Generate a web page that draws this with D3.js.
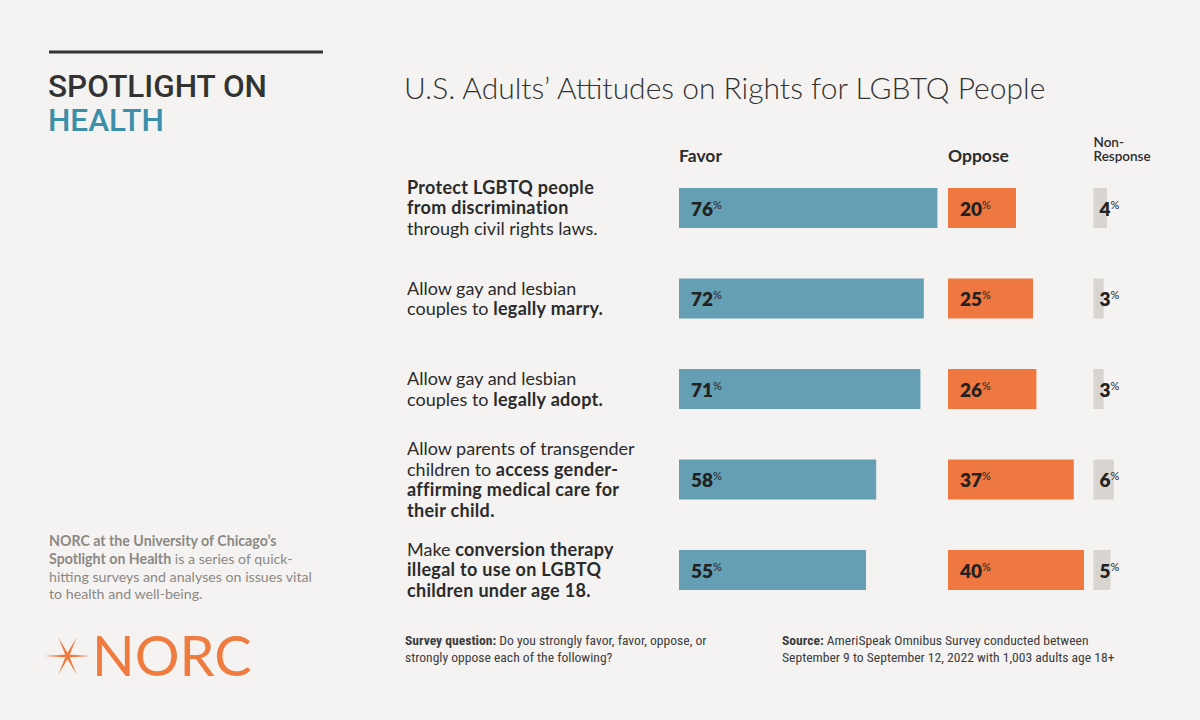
<!DOCTYPE html>
<html>
<head>
<meta charset="utf-8">
<script src="https://cdn.jsdelivr.net/npm/d3@7"></script>
<style>
  body { margin: 0; background: #f4f3f1; }
  svg { display: block; }
</style>
</head>
<body>
<div id="chart"></div>
<script>
// values
const statements = [
  [[['Protect LGBTQ people', true]], [['from discrimination', true]], [['through civil rights laws.', false]]],
  [[['Allow gay and lesbian', false]], [['couples to ', false], ['legally marry.', true]]],
  [[['Allow gay and lesbian', false]], [['couples to ', false], ['legally adopt.', true]]],
  [[['Allow parents of transgender', false]], [['children to ', false], ['access gender-', true]], [['affirming medical care for', true]], [['their child.', true]]],
  [[['Make ', false], ['conversion therapy', true]], [['illegal to use on LGBTQ', true]], [['children under age 18.', true]]]
]
const favor = [76, 72, 71, 58, 55]
const oppose = [20, 25, 26, 37, 40]
const nonResponse = [4, 3, 3, 6, 5]

const columns = [
  { key: 'favor', values: favor, x0: 679, color: '#659fb4', header: ['Favor'] },
  { key: 'oppose', values: oppose, x0: 948, color: '#ef7840', header: ['Oppose'] },
  { key: 'non', values: nonResponse, x0: 1093.5, color: '#d8d5d0', header: ['Non-', 'Response'] }
]

const W = 1200, H = 720
const ink = '#2b2b2b'
const sans = 'Lato, "Open Sans", sans-serif'

const svg = d3.select('#chart').append('svg')
  .attr('width', W).attr('height', H)
  .style('font-family', sans)

svg.append('rect').attr('width', W).attr('height', H).attr('fill', '#f4f3f1')

// rows
const y = d3.scalePoint().domain(d3.range(favor.length)).range([208, 570])
const barH = 40

// ---- left panel
svg.append('line')
  .attr('x1', 49).attr('x2', 323).attr('y1', 52).attr('y2', 52)
  .attr('stroke', '#333').attr('stroke-width', 3)

svg.append('text').attr('x', 48).attr('y', 97)
  .style('font-family', 'Roboto, sans-serif').style('font-weight', 500)
  .style('font-size', '31.5px').attr('fill', '#333')
  .text('SPOTLIGHT ON')
svg.append('text').attr('x', 48).attr('y', 131)
  .style('font-family', 'Roboto, sans-serif').style('font-weight', 500)
  .style('font-size', '31.5px').attr('fill', '#3b8fa9')
  .text('HEALTH')

const blurb = [
  [['NORC at the University of Chicago\u2019s', true]],
  [['Spotlight on Health', true], [' is a series of quick-', false]],
  [['hitting surveys and analyses on issues vital', false]],
  [['to health and well-being.', false]]
]
const blurbText = svg.append('text').attr('fill', '#8c8883').style('font-size', '14.2px')
blurb.forEach((line, i) => {
  const t = blurbText.append('tspan').attr('x', 49).attr('y', 546 + i * 17.8)
  line.forEach(([s, b]) => t.append('tspan').style('font-weight', b ? 700 : 400).text(s))
})

// NORC logo
const logo = svg.append('g').attr('fill', '#ef7b3f')
const star = { cx: 67.5, cy: 656 }
const spikes = [
  { a: 0, r: 23 }, { a: 180, r: 23 },
  { a: 64, r: 21 }, { a: 244, r: 21 },
  { a: 116, r: 21 }, { a: 296, r: 21 }
]
const spikePath = d => {
  const rad = d.a * Math.PI / 180
  const ux = Math.cos(rad), uy = Math.sin(rad)
  const px = -uy * 1.6, py = ux * 1.6
  return `M${star.cx + px},${star.cy + py}L${star.cx + ux * d.r},${star.cy + uy * d.r}L${star.cx - px},${star.cy - py}Z`
}
logo.selectAll('path').data(spikes).join('path').attr('d', spikePath)
logo.append('text').attr('x', 92).attr('y', 675.5)
  .style('font-size', '56px').style('font-weight', 400)
  .text('NORC')

// ---- title
svg.append('text').attr('x', 404).attr('y', 99)
  .style('font-size', '30px').style('font-weight', 300).attr('fill', '#333')
  .text('U.S. Adults\u2019 Attitudes on Rights for LGBTQ People')

// ---- column headers
columns.forEach(c => {
  const big = c.header.length === 1
  const t = svg.append('text').attr('fill', ink)
    .style('font-weight', big ? 700 : 600)
    .style('font-size', big ? '17.5px' : '13.5px')
  c.header.forEach((h, i) => {
    t.append('tspan').attr('x', c.x0).attr('y', big ? 162 : 147 + i * 14).text(h)
  })
})

// ---- statement labels
const lineH = 20.8
statements.forEach((lines, i) => {
  const top = y(i) - (lines.length - 1) * lineH / 2
  const t = svg.append('text').attr('fill', ink).style('font-size', '18px')
  lines.forEach((segs, j) => {
    const l = t.append('tspan').attr('x', 407).attr('y', top + j * lineH).attr('dy', '0.36em')
    segs.forEach(([s, b]) => l.append('tspan')
      .style('font-weight', b ? 700 : 400)
      .style('letter-spacing', b ? '0.3px' : null)
      .text(s))
  })
})

// ---- bars
columns.forEach(c => {
  const x = d3.scaleLinear().domain([0, 100]).range([c.x0, c.x0 + 340])
  const g = svg.append('g').attr('class', c.key)
  g.selectAll('rect').data(c.values).join('rect')
    .attr('x', x(0))
    .attr('y', (d, i) => y(i) - barH / 2)
    .attr('width', d => x(d) - x(0))
    .attr('height', barH)
    .attr('fill', c.color)
  const lab = g.selectAll('text').data(c.values).join('text')
    .attr('x', x(0) + (c.key === 'non' ? 6 : 12))
    .attr('y', (d, i) => y(i) + 7.5)
    .attr('fill', '#222')
  lab.append('tspan').style('font-weight', 800).style('font-size', '19px').text(d => d)
  lab.append('tspan').attr('dy', -7).style('font-size', '11px').style('font-weight', 400).text('%')
})

// ---- footnotes
const notes = [
  { x: 405, lines: [[['Survey question:', true], [' Do you strongly favor, favor, oppose, or', false]], [['strongly oppose each of the following?', false]]] },
  { x: 782, lines: [[['Source:', true], [' AmeriSpeak Omnibus Survey conducted between', false]], [['September 9 to September 12, 2022 with 1,003 adults age 18+', false]]] }
]
notes.forEach(n => {
  const t = svg.append('text').attr('fill', '#3d3d3d')
    .style('font-family', '"Roboto Condensed", "Liberation Sans Narrow", Roboto, sans-serif')
    .style('font-size', '13.6px')
  n.lines.forEach((segs, j) => {
    const l = t.append('tspan').attr('x', n.x).attr('y', 645 + j * 17)
    segs.forEach(([s, b]) => l.append('tspan').style('font-weight', b ? 700 : 400).text(s))
  })
})
</script>
</body>
</html>
